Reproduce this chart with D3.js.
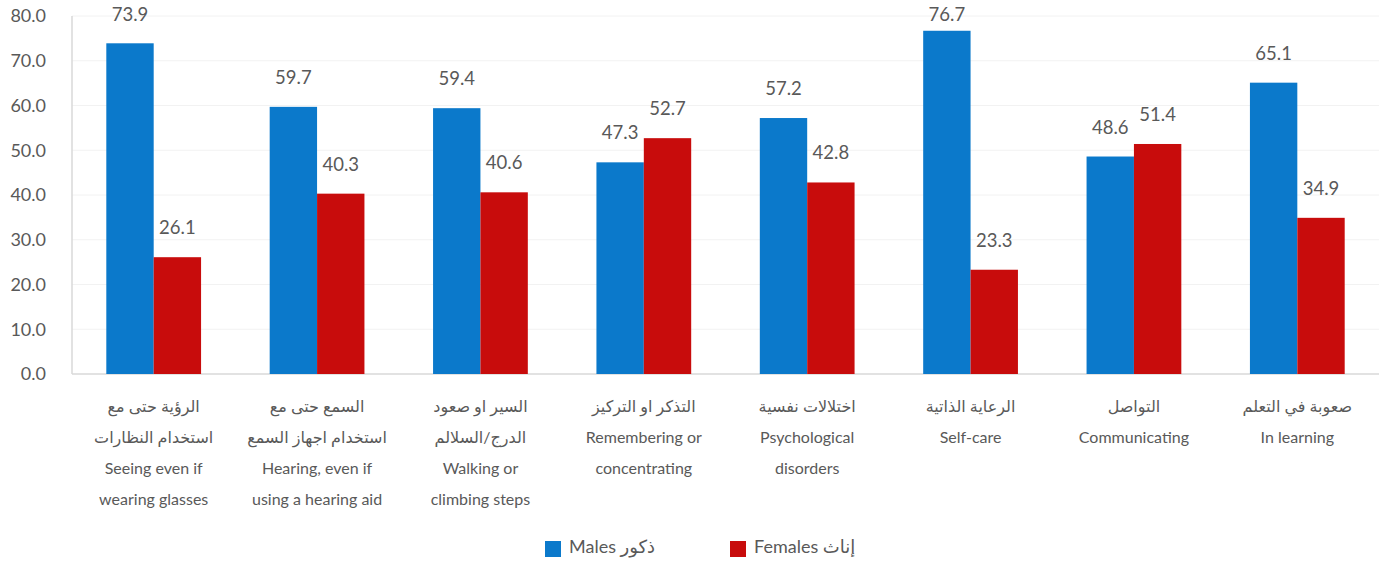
<!DOCTYPE html>
<html>
<head>
<meta charset="utf-8">
<script src="https://cdn.jsdelivr.net/npm/d3@7.9.0/dist/d3.min.js"></script>
<style>
  html, body { margin: 0; padding: 0; background: #fff; }
  svg text { font-family: Lato, "Noto Sans", "DejaVu Sans", sans-serif; fill: #595959; }
</style>
</head>
<body>
<svg id="chart" width="1384" height="565"></svg>
<script>
// ---- data ----
const categories = [
  ['الرؤية حتى مع', 'استخدام النظارات', 'Seeing even if', 'wearing glasses'],
  ['السمع حتى مع', 'استخدام اجهاز السمع', 'Hearing, even if', 'using a hearing aid'],
  ['السير او صعود', 'الدرج/السلالم', 'Walking or', 'climbing steps'],
  ['التذكر او التركيز', 'Remembering or', 'concentrating'],
  ['اختلالات نفسية', 'Psychological', 'disorders'],
  ['الرعاية الذاتية', 'Self-care'],
  ['التواصل', 'Communicating'],
  ['صعوبة في التعلم', 'In learning']
];
const males   = [73.9, 59.7, 59.4, 47.3, 57.2, 76.7, 48.6, 65.1];
const females = [26.1, 40.3, 40.6, 52.7, 42.8, 23.3, 51.4, 34.9];
const seriesNames = ['Males ذكور', 'Females إناث'];
const yTicks = [0, 10, 20, 30, 40, 50, 60, 70, 80];

const colors = ['#0B79CB', '#C80C0C'];

// ---- layout ----
const svg = d3.select('#chart');
const margin = { top: 16, right: 5, bottom: 191, left: 72 };
const W = 1384, H = 565;
const innerW = W - margin.left - margin.right;
const innerH = H - margin.top - margin.bottom;

const g = svg.append('g').attr('transform', `translate(${margin.left},${margin.top})`);

const x = d3.scaleBand()
  .domain(d3.range(categories.length))
  .range([0, innerW])
  .paddingInner(0.42)
  .paddingOuter(0.21);

const xs = d3.scaleBand().domain([0, 1]).range([0, x.bandwidth()]);

const y = d3.scaleLinear().domain([0, 80]).range([innerH, 0]);

// gridlines
g.selectAll('line.grid')
  .data(yTicks.filter(d => d > 0))
  .join('line')
  .attr('class', 'grid')
  .attr('x1', 0).attr('x2', innerW)
  .attr('y1', d => y(d)).attr('y2', d => y(d))
  .attr('stroke', '#f2f2f2').attr('stroke-width', 1);

// y axis labels
g.selectAll('text.ytick')
  .data(yTicks)
  .join('text')
  .attr('class', 'ytick')
  .attr('x', -26)
  .attr('y', d => y(d))
  .attr('dy', '0.35em')
  .attr('text-anchor', 'end')
  .style('font-size', '18px')
  .text(d => d.toFixed(1));

// axis lines
g.append('line')
  .attr('x1', 0).attr('x2', 0).attr('y1', 0).attr('y2', innerH)
  .attr('stroke', '#d9d9d9').attr('stroke-width', 1.5);
g.append('line')
  .attr('x1', 0).attr('x2', innerW).attr('y1', innerH).attr('y2', innerH)
  .attr('stroke', '#d9d9d9').attr('stroke-width', 1.5);

// bars
const series = [males, females];
series.forEach((vals, s) => {
  g.selectAll(`rect.s${s}`)
    .data(vals)
    .join('rect')
    .attr('class', `s${s}`)
    .attr('x', (d, i) => x(i) + xs(s))
    .attr('y', d => y(d))
    .attr('width', xs.bandwidth())
    .attr('height', d => innerH - y(d))
    .attr('fill', colors[s]);

  // value labels, kept inside the top of the chart
  g.selectAll(`text.v${s}`)
    .data(vals)
    .join('text')
    .attr('class', `v${s}`)
    .attr('x', (d, i) => x(i) + xs(s) + xs.bandwidth() / 2)
    .attr('y', d => Math.max(y(d) - 23, 5))
    .attr('text-anchor', 'middle')
    .style('font-size', '18.5px')
    .text(d => d.toFixed(1));
});

// category labels
categories.forEach((lines, i) => {
  const t = g.append('text')
    .attr('x', x(i) + x.bandwidth() / 2)
    .attr('y', innerH + 38)
    .attr('text-anchor', 'middle')
    .style('font-size', '16px');
  lines.forEach((ln, k) => {
    t.append('tspan')
      .attr('x', x(i) + x.bandwidth() / 2)
      .attr('y', innerH + 38 + k * 31)
      .text(ln);
  });
});

// legend
const legend = svg.append('g').attr('transform', 'translate(545,541)');
seriesNames.forEach((name, s) => {
  const lg = legend.append('g').attr('transform', `translate(${s * 185},0)`);
  lg.append('rect').attr('width', 16).attr('height', 16).attr('y', 0).attr('fill', colors[s]);
  lg.append('text').attr('x', 24).attr('y', 6).attr('dy', '0.35em')
    .style('font-size', '18px').text(name);
});
</script>
</body>
</html>
